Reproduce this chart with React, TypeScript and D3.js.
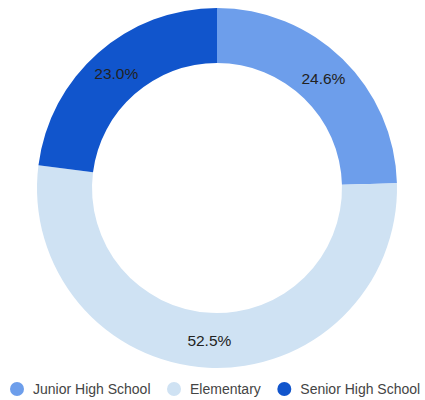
import React, { useEffect, useRef } from "react";
import * as d3 from "d3";

const categories = ["Junior High School", "Elementary", "Senior High School"];
const values = [24.6, 52.5, 23.0];
const colors = ["#6d9eeb", "#cfe2f3", "#1155cc"];

const W = 425, H = 400;
const FONT = "'Liberation Sans', Arial, sans-serif";

export default function App() {
  const ref = useRef<SVGSVGElement>(null);
  useEffect(() => {
    const svg = d3.select(ref.current);
    svg.selectAll("*").remove();
    const cx = 217, cy = 188, R = 180, r = 125;
    const pie = d3.pie<number>().value(d => d).sort(null);
    const arcs = pie(values);
    const arc = d3.arc<d3.PieArcDatum<number>>().innerRadius(r).outerRadius(R);
    const g = svg.append("g").attr("transform", `translate(${cx},${cy})`);
    g.selectAll("path").data(arcs).enter().append("path")
      .attr("d", arc as any)
      .attr("fill", (_, i) => colors[i]);
    g.selectAll("text").data(arcs).enter().append("text")
      .attr("transform", d => `translate(${arc.centroid(d)})`)
      .attr("text-anchor", "middle")
      .attr("dy", "0.35em")
      .attr("font-family", FONT)
      .attr("font-size", 15.5)
      .attr("fill", "#222")
      .text(d => d.data.toFixed(1) + "%");

    const lg = svg.append("g");
    let x = 17;
    const ly = 389;
    categories.forEach((c, i) => {
      lg.append("circle").attr("cx", x).attr("cy", ly).attr("r", 7).attr("fill", colors[i]);
      const t = lg.append("text").attr("x", x + 16).attr("y", ly).attr("dy", "0.35em")
        .attr("font-family", FONT)
        .attr("font-size", 14).attr("fill", "#444").text(c);
      const w = (t.node() as SVGTextElement).getComputedTextLength();
      x = x + 16 + w + 23.5;
    });
  }, []);
  return (
    <svg ref={ref} width={W} height={H} style={{ position: "absolute", left: 0, top: 0, background: "#fff" }} />
  );
}
